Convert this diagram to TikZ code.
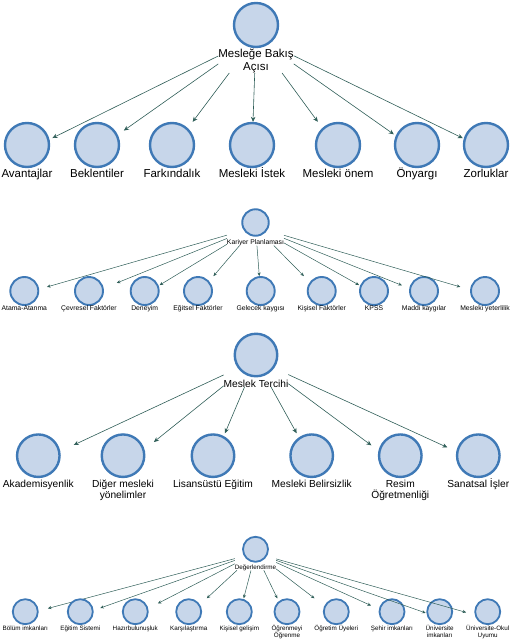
\documentclass[tikz,border=0pt]{standalone}
\usepackage{fontspec}
\setmainfont{Liberation Sans}
\usetikzlibrary{fit,arrows.meta}
\definecolor{cstroke}{HTML}{3F79B6}
\definecolor{cfill}{HTML}{C7D6EA}
\definecolor{carrow}{HTML}{2F5E58}
\begin{document}
\begin{tikzpicture}[x=1pt,y=-1pt,
  cA/.style={circle, draw=cstroke, fill=cfill, line width=2.4pt, inner sep=0pt, minimum size=44pt},
  cB/.style={circle, draw=cstroke, fill=cfill, line width=1.9pt, inner sep=0pt, minimum size=26.5pt},
  cC/.style={circle, draw=cstroke, fill=cfill, line width=2.4pt, inner sep=0pt, minimum size=42.5pt},
  cD/.style={circle, draw=cstroke, fill=cfill, line width=1.8pt, inner sep=0pt, minimum size=25pt},
  cBc/.style={cB, minimum size=28pt},
  labA/.style={inner sep=0pt, outer sep=0pt, anchor=base, align=center, font=\fontsize{11.5}{13.5}\selectfont},
  labB/.style={inner sep=0pt, outer sep=0pt, anchor=base, align=center, font=\fontsize{6.8}{8}\selectfont},
  labC/.style={inner sep=0pt, outer sep=0pt, anchor=base, align=center, font=\fontsize{10.2}{10.5}\selectfont},
  labD/.style={inner sep=0pt, outer sep=0pt, anchor=base, align=center, font=\fontsize{6.3}{6.8}\selectfont},
  grp/.style={inner sep=0pt, outer sep=0pt, rectangle},
  arrA/.style={draw=carrow, line width=0.6pt, -{Stealth[length=5pt,width=4.5pt]}},
  arrB/.style={draw=carrow, line width=0.5pt, -{Stealth[length=3.6pt,width=3.2pt]}}]
\useasboundingbox (0,0) rectangle (513,640);

% ---------- Section 1 ----------
\node[cA] (r1c) at (256,25) {};
\node[labA] (r1l) at (256,70.5) {Mesleğe Bakış\\Açısı};
\node[grp, fit=(r1c)(r1l)] (r1) {};
\foreach \x/\n/\t in {27/a1/Avantajlar, 97/a2/Beklentiler, 172/a3/Farkındalık, 252/a4/Mesleki İstek, 338/a5/Mesleki önem, 417/a6/Önyargı, 486/a7/Zorluklar}{
  \node[cA] (\n-c) at (\x,145) {};
  \node[labA] (\n-l) at (\x,177) {\t};
  \node[grp, fit=(\n-c)(\n-l)] (\n) {};
  \draw[arrA] (r1) -- (\n);
}

% ---------- Section 2 ----------
\node[cB] (r2c) at (255.5,222.5) {};
\node[labB] (r2l) at (255.5,244.2) {Kariyer Planlaması};
\node[grp, fit=(r2c)(r2l)] (r2) {};
\foreach \x/\n/\t in {24.3/b1/Atama-Atanma, 89/b2/Çevresel Faktörler, 144.7/b3/Deneyim, 198/b4/Eğitsel Faktörler, 260.7/b5/Gelecek kaygısı, 321.7/b6/Kişisel Faktörler, 374/b7/KPSS, 424/b8/Maddi kaygılar, 485/b9/Mesleki yeterlilik}{
  \node[cBc] (\n-c) at (\x,291) {};
  \node[labB] (\n-l) at (\x,310.8) {\t};
  \node[grp, fit=(\n-c)(\n-l)] (\n) {};
  \draw[arrB] (r2) -- (\n);
}

% ---------- Section 3 ----------
\node[cC] (r3c) at (256,355) {};
\node[labC] (r3l) at (256,387) {Meslek Tercihi};
\node[grp, fit=(r3c)(r3l)] (r3) {};
\foreach \x/\n/\t/\k in {38.3/d1/Akademisyenlik/0, 123/d2/{Diğer mesleki\\yönelimler}/1, 213/d3/Lisansüstü Eğitim/0, 311.7/d4/Mesleki Belirsizlik/0, 400.3/d5/{Resim\\Öğretmenliği}/1, 478.3/d6/Sanatsal İşler/0}{
  \node[cC] (\n-c) at (\x,455.7) {};
  \node[labC] (\n-l) at (\x,487.7+10.5*\k) {\t};
  \node[grp, fit=(\n-c)(\n-l)] (\n) {};
  \draw[arrA] (r3) -- (\n);
}

% ---------- Section 4 ----------
\node[cD] (r4c) at (255.5,549.3) {};
\node[labD] (r4l) at (255.5,569) {Değerlendirme};
\node[grp, fit=(r4c)(r4l)] (r4) {};
\foreach \x/\n/\t/\k in {25.3/e1/Bölüm imkanları/0, 80.3/e2/Eğitim Sistemi/0, 135.3/e3/Hazırbulunuşluk/0, 188.7/e4/Karşılaştırma/0, 239.3/e5/Kişisel gelişim/0, 287/e6/{Öğrenmeyi\\Öğrenme}/1, 336.3/e7/Öğretim Üyeleri/0, 392/e8/Şehir imkanları/0, 439.7/e9/{Üniversite\\imkanları}/1, 487.7/e10/{Üniversite-Okul\\Uyumu}/1}{
  \node[cD] (\n-c) at (\x,611.7) {};
  \node[labD] (\n-l) at (\x,630.5+6.8*\k) {\t};
  \node[grp, fit=(\n-c)(\n-l)] (\n) {};
  \draw[arrB] (r4) -- (\n);
}
\end{tikzpicture}
\end{document}
